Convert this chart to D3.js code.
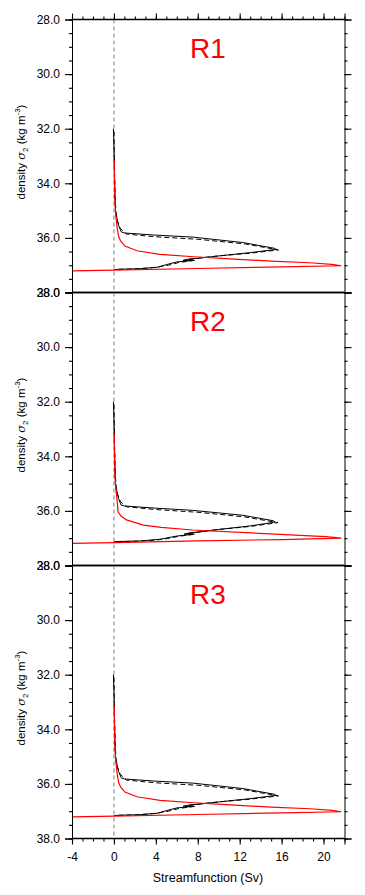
<!DOCTYPE html>
<html>
<head>
<meta charset="utf-8">
<script src="https://cdn.jsdelivr.net/npm/d3@7"></script>
<style>
  body { margin: 0; background: #fff; }
  text { font-family: "Liberation Sans", Arial, Helvetica, sans-serif; }
</style>
</head>
<body>
<svg id="chart"></svg>
<script>
/* data: [streamfunction (Sv), density sigma2] */
const regions = ['R1', 'R2', 'R3'];

const blackSolid1 = [[-0.05, 32.0], [0.0, 32.6], [0.05, 33.5], [0.1, 34.5], [0.15, 35.0], [0.3, 35.3], [0.45, 35.55], [0.7, 35.78],
  [1.0, 35.82], [4.0, 35.9], [7.5, 35.97], [12.3, 36.17], [15.3, 36.38], [15.5, 36.42], [13.0, 36.54], [10.0, 36.66], [8.2, 36.74],
  [7.2, 36.77], [6.6, 36.82], [7.4, 36.83], [6.0, 36.88], [5.0, 36.98], [4.2, 37.07], [2.5, 37.13], [0.5, 37.15], [0.0, 37.16]];
const blackDash1 = [[0.0, 32.1], [0.05, 33.5], [0.12, 34.5], [0.2, 35.1], [0.35, 35.4], [0.6, 35.65], [1.2, 35.86], [4.0, 35.96],
  [8.0, 36.05], [12.5, 36.22], [15.7, 36.44], [13.0, 36.56], [10.0, 36.66], [8.5, 36.72], [7.8, 36.76], [7.0, 36.8], [7.8, 36.82],
  [6.2, 36.9], [5.2, 37.0], [4.0, 37.08], [2.2, 37.13], [0.3, 37.15]];
const red1 = [[0.03, 33.15], [0.05, 34.0], [0.1, 34.7], [0.18, 35.2], [0.3, 35.6], [0.45, 35.95], [0.65, 36.12], [1.05, 36.3],
  [2.2, 36.47], [4.4, 36.6], [7.6, 36.69], [10.7, 36.76], [15.0, 36.85], [18.7, 36.91], [20.8, 36.97], [21.7, 37.02], [16.0, 37.06],
  [8.0, 37.12], [0.0, 37.18], [-4.5, 37.21]];

const blackSolid2 = [[-0.05, 32.0], [0.0, 32.6], [0.05, 33.5], [0.1, 34.5], [0.15, 35.0], [0.3, 35.3], [0.45, 35.55], [0.67, 35.78],
  [1.0, 35.82], [4.0, 35.9], [7.5, 35.98], [12.3, 36.16], [15.2, 36.36], [15.4, 36.41], [13.0, 36.55], [10.0, 36.68], [8.2, 36.77],
  [7.3, 36.8], [6.7, 36.85], [7.5, 36.86], [6.0, 36.92], [4.4, 37.04], [2.5, 37.1], [0.5, 37.12], [0.0, 37.13]];
const blackDash2 = [[0.0, 32.1], [0.05, 33.5], [0.12, 34.5], [0.2, 35.1], [0.35, 35.4], [0.6, 35.65], [1.2, 35.85], [4.0, 35.95],
  [8.0, 36.05], [12.5, 36.22], [15.65, 36.43], [13.0, 36.57], [10.0, 36.68], [8.5, 36.75], [7.8, 36.79], [7.0, 36.83], [7.8, 36.85],
  [6.2, 36.93], [5.0, 37.02], [4.0, 37.07], [2.2, 37.11], [0.3, 37.13]];
const red2 = [[0.03, 33.15], [0.05, 34.0], [0.1, 34.7], [0.18, 35.2], [0.3, 35.6], [0.4, 36.03], [0.7, 36.2], [1.2, 36.33],
  [2.8, 36.52], [4.5, 36.6], [7.5, 36.7], [13.9, 36.82], [20.2, 36.94], [21.7, 37.0], [16.0, 37.05], [8.0, 37.1], [0.0, 37.16],
  [-4.5, 37.19]];

const blackSolid3 = [[-0.05, 32.0], [0.0, 32.6], [0.05, 33.5], [0.1, 34.5], [0.15, 35.0], [0.3, 35.3], [0.45, 35.55], [0.7, 35.78],
  [1.0, 35.82], [4.0, 35.9], [7.5, 35.97], [12.3, 36.17], [15.3, 36.38], [15.5, 36.42], [13.0, 36.54], [10.0, 36.66], [8.2, 36.74],
  [7.2, 36.77], [6.6, 36.82], [7.4, 36.83], [6.0, 36.88], [5.0, 36.98], [4.2, 37.07], [2.5, 37.13], [0.5, 37.15], [0.0, 37.16]];
const blackDash3 = [[0.0, 32.1], [0.05, 33.5], [0.12, 34.5], [0.2, 35.1], [0.35, 35.4], [0.6, 35.65], [1.2, 35.86], [4.0, 35.96],
  [8.0, 36.05], [12.5, 36.22], [15.7, 36.44], [13.0, 36.56], [10.0, 36.66], [8.5, 36.72], [7.8, 36.76], [7.0, 36.8], [7.8, 36.82],
  [6.2, 36.9], [5.2, 37.0], [4.0, 37.08], [2.2, 37.13], [0.3, 37.15]];
const red3 = [[0.03, 33.15], [0.05, 34.0], [0.1, 34.7], [0.18, 35.2], [0.3, 35.6], [0.45, 35.95], [0.65, 36.12], [1.05, 36.3],
  [2.2, 36.47], [4.4, 36.6], [7.6, 36.69], [10.7, 36.76], [15.0, 36.85], [18.7, 36.91], [20.8, 36.97], [21.7, 37.02], [16.0, 37.06],
  [8.0, 37.12], [0.0, 37.18], [-4.5, 37.21]];

const panelData = [
  { solid: blackSolid1, dash: blackDash1, red: red1 },
  { solid: blackSolid2, dash: blackDash2, red: red2 },
  { solid: blackSolid3, dash: blackDash3, red: red3 }
];

const xTicks = [-4, 0, 4, 8, 12, 16, 20];
const yTicks = [28, 30, 32, 34, 36, 38];

/* layout */
const width = 365, height = 895;
const left = 72, right = 344.5, top0 = 19.5, panelH = 273;

const svg = d3.select('#chart').attr('width', width).attr('height', height);

const x = d3.scaleLinear().domain([-4, 22]).range([left, right]);

svg.append('defs').append('clipPath').attr('id', 'clip')
  .append('rect').attr('x', left).attr('y', 0).attr('width', right - left).attr('height', panelH);

const line = (y) => d3.line().x(d => x(d[0])).y(d => y(d[1]));

panelData.forEach((p, i) => {
  const top = top0 + i * panelH;
  const y = d3.scaleLinear().domain([28, 38]).range([0, panelH]);
  const g = svg.append('g').attr('transform', `translate(0, ${top})`);

  // zero line
  g.append('line')
    .attr('x1', x(0)).attr('x2', x(0)).attr('y1', 0).attr('y2', panelH)
    .attr('stroke', '#aaa').attr('stroke-width', 1.5).attr('stroke-dasharray', '4,3');

  // curves
  const c = g.append('g').attr('clip-path', 'url(#clip)');
  c.append('path').attr('d', line(y)(p.dash)).attr('fill', 'none')
    .attr('stroke', '#000').attr('stroke-width', 1).attr('stroke-dasharray', '5,3');
  c.append('path').attr('d', line(y)(p.solid)).attr('fill', 'none')
    .attr('stroke', '#000').attr('stroke-width', 1);
  c.append('path').attr('d', line(y)(p.red)).attr('fill', 'none')
    .attr('stroke', '#f00').attr('stroke-width', 1.2);

  // left axis, major + minor
  g.append('g').attr('transform', `translate(${left}, 0)`)
    .call(d3.axisLeft(y).tickValues(d3.range(28, 38.01, 0.5)).tickSize(3).tickFormat(''))
    .call(a => a.select('.domain').remove());
  g.append('g').attr('transform', `translate(${left}, 0)`)
    .call(d3.axisLeft(y).tickValues(yTicks).tickSize(7).tickPadding(5).tickFormat(d3.format('.1f')))
    .call(a => a.selectAll('text').attr('font-size', 12).attr('font-family', null));

  // right axis
  g.append('g').attr('transform', `translate(${right}, 0)`)
    .call(d3.axisRight(y).tickValues(d3.range(28, 38.01, 0.5)).tickSize(3).tickFormat(''))
    .call(a => a.select('.domain').remove());
  g.append('g').attr('transform', `translate(${right}, 0)`)
    .call(d3.axisRight(y).tickValues(yTicks).tickSize(7).tickFormat(''));

  // frame top/bottom
  g.append('line').attr('x1', left).attr('x2', right).attr('y1', 0).attr('y2', 0).attr('stroke', '#000').attr('stroke-width', 1.4);
  g.append('line').attr('x1', left).attr('x2', right).attr('y1', panelH).attr('y2', panelH).attr('stroke', '#000').attr('stroke-width', 1.4);

  if (i === 0) {
    g.append('g')
      .call(d3.axisTop(x).tickValues(d3.range(-4, 22.01, 1)).tickSize(3).tickFormat(''))
      .call(a => a.select('.domain').remove());
    g.append('g')
      .call(d3.axisTop(x).tickValues(xTicks.concat([22])).tickSize(6).tickFormat(''))
      .call(a => a.select('.domain').remove());
  }
  if (i === 2) {
    g.append('g').attr('transform', `translate(0, ${panelH})`)
      .call(d3.axisBottom(x).tickValues(d3.range(-4, 22.01, 1)).tickSize(3).tickFormat(''))
      .call(a => a.select('.domain').remove());
    g.append('g').attr('transform', `translate(0, ${panelH})`)
      .call(d3.axisBottom(x).tickValues(xTicks.concat([22])).tickSize(6).tickPadding(8)
        .tickFormat(d => (xTicks.includes(d) ? d : '')))
      .call(a => a.select('.domain').remove())
      .call(a => a.selectAll('text').attr('font-size', 12).attr('font-family', null));
  }

  // region label
  g.append('text').attr('x', 208).attr('y', 38.5).attr('text-anchor', 'middle')
    .attr('font-size', 28).attr('fill', '#f00').text(regions[i]);

  // y title
  const t = g.append('text')
    .attr('transform', `translate(25, ${panelH / 2 - 4}) rotate(-90)`)
    .attr('text-anchor', 'middle').attr('font-size', 11.5);
  t.append('tspan').text('density ');
  t.append('tspan').attr('font-style', 'italic').attr('font-family', 'DejaVu Serif').text('σ');
  t.append('tspan').attr('font-size', 8).attr('dy', 3).text('2');
  t.append('tspan').attr('dy', -3).text(' (kg m');
  t.append('tspan').attr('font-size', 8).attr('dy', -5).text('-3');
  t.append('tspan').attr('dy', 5).text(')');
});

svg.selectAll('.tick line').attr('stroke-width', 1.1);

// x title
svg.append('text').attr('x', 208).attr('y', 882).attr('text-anchor', 'middle')
  .attr('font-size', 12.5).text('Streamfunction (Sv)');
</script>
</body>
</html>
